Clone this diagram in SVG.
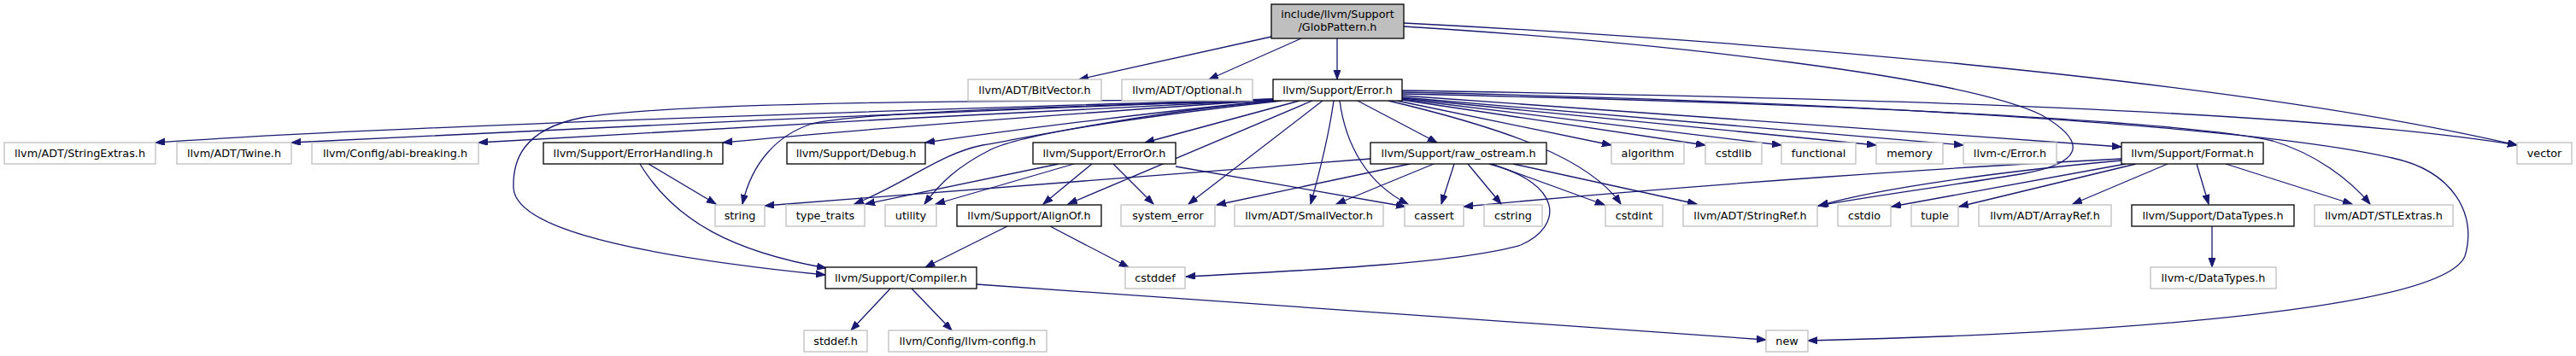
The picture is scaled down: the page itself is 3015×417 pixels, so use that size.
<svg xmlns="http://www.w3.org/2000/svg" width="3015" height="417" viewBox="0 0 3015 417">
<style>
.n rect{fill:#fff;stroke:#bfbfbf;stroke-width:1.3}
.d rect{stroke:#000}
.n text{font-family:"DejaVu Sans",sans-serif;font-size:12.8px;fill:#000;text-anchor:middle}
#edges path{fill:none;stroke:#191970;stroke-width:1.3;marker-end:url(#ah)}
</style>
<defs>
<marker id="ah" markerUnits="userSpaceOnUse" markerWidth="12" markerHeight="9" refX="11" refY="4" orient="auto">
<path d="M0,0 L11,4 L0,8 z" fill="#191970" stroke="#191970" stroke-width="1"/>
</marker>
</defs>
<rect width="3015" height="417" fill="#fff"/>
<g id="edges">
<path d="M1488,43 L1263,93"/>
<path d="M1523,45 L1415,93"/>
<path d="M1565,45 L1565,93"/>
<path d="M1643,27 C2000,45 2600,90 2946,170"/>
<path d="M1643,31 C1950,50 2300,90 2390,135 C2450,170 2430,192 2370,203 C2300,215 2200,228 2128,241"/>
<path d="M1490,116 C1200,125 500,145 182,167"/>
<path d="M1490,116 C1200,127 650,150 341,167"/>
<path d="M1490,117 C1250,128 800,152 560,167"/>
<path d="M1490,117 C1300,130 1000,152 846,167"/>
<path d="M1490,118 C1380,128 1200,150 1083,167"/>
<path d="M1490,117 C1200,118 800,118 680,138 C610,152 600,190 601,220 C603,260 700,295 966,322"/>
<path d="M1492,118 C1200,125 1000,133 950,145 C910,158 880,190 869,239"/>
<path d="M1495,118 C1350,130 1220,158 1150,170 C1100,180 1060,215 1000,239"/>
<path d="M1500,118 C1350,135 1200,155 1160,175 C1120,195 1100,215 1082,239"/>
<path d="M1521,118 L1340,167"/>
<path d="M1536,118 L1250,239"/>
<path d="M1548,118 L1391,239"/>
<path d="M1561,118 C1555,160 1545,200 1534,239"/>
<path d="M1568,118 C1575,170 1600,215 1648,239"/>
<path d="M1589,118 L1682,167"/>
<path d="M1625,118 C1760,150 1860,185 1897,239"/>
<path d="M1635,118 L1886,170"/>
<path d="M1641,117 L1996,170"/>
<path d="M1641,116 L2085,170"/>
<path d="M1641,115 L2196,170"/>
<path d="M1641,114 L2298,170"/>
<path d="M1641,112 L2483,172"/>
<path d="M1641,110 C2100,120 2550,140 2660,165 C2710,180 2750,210 2774,239"/>
<path d="M1641,108 C2200,120 2650,150 2800,185 C2870,200 2900,250 2885,300 C2860,360 2500,390 2116,399"/>
<path d="M1641,106 C2200,115 2700,130 2946,170"/>
<path d="M759,192 L838,239"/>
<path d="M749,192 C790,260 860,295 967,314"/>
<path d="M1239,192 L1013,239"/>
<path d="M1257,192 L1095,239"/>
<path d="M1278,192 L1221,239"/>
<path d="M1303,192 L1350,239"/>
<path d="M1376,195 L1645,242"/>
<path d="M1604,186 L895,241"/>
<path d="M1650,192 L1424,240"/>
<path d="M1678,192 L1564,239"/>
<path d="M1702,192 L1687,239"/>
<path d="M1718,192 L1757,239"/>
<path d="M1743,192 C1830,215 1830,265 1780,287 C1700,310 1500,318 1388,324"/>
<path d="M1746,192 L1878,240"/>
<path d="M1771,192 L1986,239"/>
<path d="M2483,186 C2300,195 2000,215 1713,242"/>
<path d="M2483,188 C2350,200 2200,220 2129,241"/>
<path d="M2488,192 L2214,242"/>
<path d="M2500,192 L2293,242"/>
<path d="M2537,192 L2426,239"/>
<path d="M2571,192 L2585,239"/>
<path d="M2605,192 L2753,239"/>
<path d="M1179,265 L1083,313"/>
<path d="M1229,265 L1321,313"/>
<path d="M1042,338 L996,387"/>
<path d="M1067,338 L1114,387"/>
<path d="M1143,333 L2067,398"/>
<path d="M2589,265 L2589,313"/>
</g>
<g id="n0" class="n d"><rect x="1488" y="5" width="155" height="40" style="fill:#bfbfbf"/><text x="1565.5" y="21">include/llvm/Support</text><text x="1565.5" y="36">/GlobPattern.h</text></g>
<g id="n1" class="n"><rect x="1133" y="93" width="156" height="25"/><text x="1211" y="110">llvm/ADT/BitVector.h</text></g>
<g id="n2" class="n"><rect x="1313" y="93" width="153" height="25"/><text x="1389.5" y="110">llvm/ADT/Optional.h</text></g>
<g id="n3" class="n d"><rect x="1490" y="93" width="151" height="25"/><text x="1565.5" y="110">llvm/Support/Error.h</text></g>
<g id="n4" class="n"><rect x="5" y="167" width="177" height="25"/><text x="93.5" y="184">llvm/ADT/StringExtras.h</text></g>
<g id="n5" class="n"><rect x="207" y="167" width="134" height="25"/><text x="274" y="184">llvm/ADT/Twine.h</text></g>
<g id="n6" class="n"><rect x="365" y="167" width="195" height="25"/><text x="462.5" y="184">llvm/Config/abi-breaking.h</text></g>
<g id="n7" class="n d"><rect x="636" y="167" width="210" height="25"/><text x="741" y="184">llvm/Support/ErrorHandling.h</text></g>
<g id="n8" class="n d"><rect x="921" y="167" width="162" height="25"/><text x="1002" y="184">llvm/Support/Debug.h</text></g>
<g id="n9" class="n d"><rect x="1209" y="167" width="167" height="25"/><text x="1292.5" y="184">llvm/Support/ErrorOr.h</text></g>
<g id="n10" class="n d"><rect x="1604" y="167" width="206" height="25"/><text x="1707" y="184">llvm/Support/raw_ostream.h</text></g>
<g id="n11" class="n"><rect x="1886" y="167" width="85" height="25"/><text x="1928.5" y="184">algorithm</text></g>
<g id="n12" class="n"><rect x="1996" y="167" width="66" height="25"/><text x="2029" y="184">cstdlib</text></g>
<g id="n13" class="n"><rect x="2085" y="167" width="87" height="25"/><text x="2128.5" y="184">functional</text></g>
<g id="n14" class="n"><rect x="2196" y="167" width="78" height="25"/><text x="2235" y="184">memory</text></g>
<g id="n15" class="n"><rect x="2298" y="167" width="109" height="25"/><text x="2352.5" y="184">llvm-c/Error.h</text></g>
<g id="n16" class="n d"><rect x="2483" y="167" width="166" height="25"/><text x="2566" y="184">llvm/Support/Format.h</text></g>
<g id="n17" class="n"><rect x="2946" y="167" width="64" height="25"/><text x="2978" y="184">vector</text></g>
<g id="n18" class="n"><rect x="837" y="240" width="58" height="25"/><text x="866" y="257">string</text></g>
<g id="n19" class="n"><rect x="920" y="240" width="92" height="25"/><text x="966" y="257">type_traits</text></g>
<g id="n20" class="n"><rect x="1036" y="240" width="60" height="25"/><text x="1066" y="257">utility</text></g>
<g id="n21" class="n d"><rect x="1120" y="240" width="169" height="25"/><text x="1204.5" y="257">llvm/Support/AlignOf.h</text></g>
<g id="n22" class="n"><rect x="1312" y="240" width="110" height="25"/><text x="1367" y="257">system_error</text></g>
<g id="n23" class="n"><rect x="1445" y="240" width="174" height="25"/><text x="1532" y="257">llvm/ADT/SmallVector.h</text></g>
<g id="n24" class="n"><rect x="1644" y="240" width="69" height="25"/><text x="1678.5" y="257">cassert</text></g>
<g id="n25" class="n"><rect x="1737" y="240" width="68" height="25"/><text x="1771" y="257">cstring</text></g>
<g id="n26" class="n"><rect x="1879" y="240" width="67" height="25"/><text x="1912.5" y="257">cstdint</text></g>
<g id="n27" class="n"><rect x="1970" y="240" width="157" height="25"/><text x="2048.5" y="257">llvm/ADT/StringRef.h</text></g>
<g id="n28" class="n"><rect x="2151" y="240" width="62" height="25"/><text x="2182" y="257">cstdio</text></g>
<g id="n29" class="n"><rect x="2237" y="240" width="55" height="25"/><text x="2264.5" y="257">tuple</text></g>
<g id="n30" class="n"><rect x="2316" y="240" width="155" height="25"/><text x="2393.5" y="257">llvm/ADT/ArrayRef.h</text></g>
<g id="n31" class="n d"><rect x="2495" y="240" width="190" height="25"/><text x="2590" y="257">llvm/Support/DataTypes.h</text></g>
<g id="n32" class="n"><rect x="2709" y="240" width="162" height="25"/><text x="2790" y="257">llvm/ADT/STLExtras.h</text></g>
<g id="n33" class="n d"><rect x="966" y="313" width="177" height="25"/><text x="1054.5" y="330">llvm/Support/Compiler.h</text></g>
<g id="n34" class="n"><rect x="1317" y="313" width="70" height="25"/><text x="1352" y="330">cstddef</text></g>
<g id="n35" class="n"><rect x="2517" y="313" width="147" height="25"/><text x="2590.5" y="330">llvm-c/DataTypes.h</text></g>
<g id="n36" class="n"><rect x="941" y="387" width="74" height="25"/><text x="978" y="404">stddef.h</text></g>
<g id="n37" class="n"><rect x="1040" y="387" width="185" height="25"/><text x="1132.5" y="404">llvm/Config/llvm-config.h</text></g>
<g id="n38" class="n"><rect x="2067" y="387" width="49" height="25"/><text x="2091.5" y="404">new</text></g>
</svg>
